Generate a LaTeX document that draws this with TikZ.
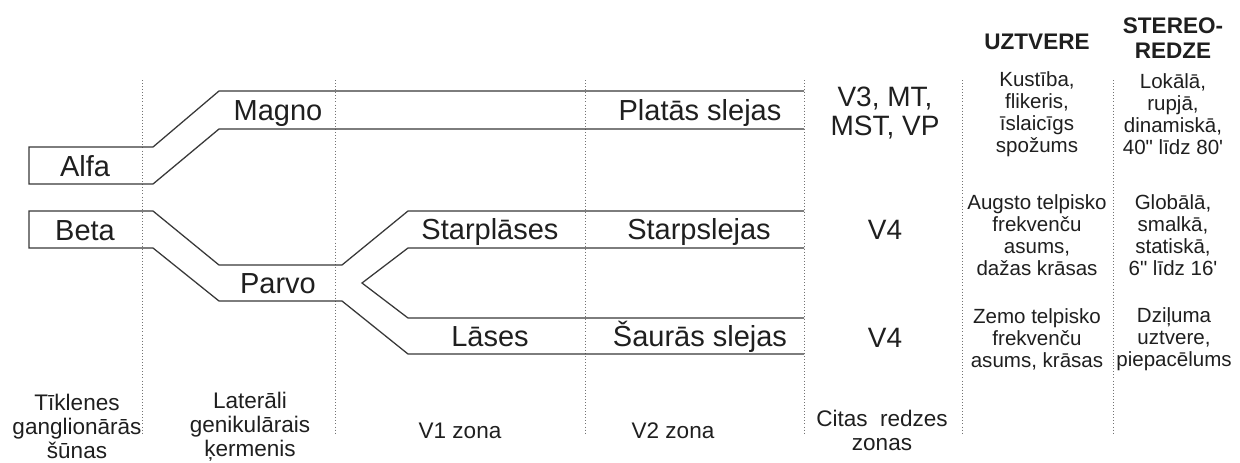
\documentclass[tikz,border=0pt]{standalone}
\usepackage{fontspec}
\setmainfont{Liberation Sans}[Ligatures=TeXOff]
\begin{document}
\begin{tikzpicture}[x=0.75pt,y=-0.75pt,
  band/.style={draw=black!78, line width=0.95pt, line join=miter},
  sepline/.style={draw=black!55, line width=0.7pt, dash pattern=on 0.7pt off 1.6pt},
  lbl/.style={font=\fontsize{21.75}{26}\selectfont, anchor=base, inner sep=0pt, text=black!88},
  vlbl/.style={font=\fontsize{21}{21.75}\selectfont, align=center, inner sep=0pt, text=black!88},
  head/.style={font=\bfseries\fontsize{16.9}{18.75}\selectfont, align=center, inner sep=0pt, text=black!88},
  desc/.style={font=\fontsize{15.4}{16.5}\selectfont, align=center, inner sep=0pt, text=black!88},
  foot/.style={font=\fontsize{16.9}{18}\selectfont, align=center, inner sep=0pt, text=black!88}]
\useasboundingbox[fill=white] (0,0) rectangle (1240,462);

% column separators
\foreach \xx in {142,335,585,804,962,1113}
  \draw[sepline] (\xx,80) -- (\xx,435);

% band corner points
\coordinate (mTR) at (804,91);
\coordinate (mTL) at (219,91);
\coordinate (aTR) at (153,147);
\coordinate (aTL) at (29,147);
\coordinate (aBL) at (29,184);
\coordinate (aBR) at (153,184);
\coordinate (mBL) at (219,129);
\coordinate (mBR) at (804,129);

\coordinate (sTR) at (804,211);
\coordinate (sTL) at (408,211);
\coordinate (pTR) at (342,265);
\coordinate (pTL) at (219,265);
\coordinate (bTR) at (153,211);
\coordinate (bTL) at (29,211);
\coordinate (bBL) at (29,248);
\coordinate (bBR) at (153,248);
\coordinate (pBL) at (219,301);
\coordinate (pBR) at (342,301);
\coordinate (lBL) at (408,354);
\coordinate (lBR) at (804,354);

\coordinate (sBR) at (804,248);
\coordinate (sBL) at (408,248);
\coordinate (vApex) at (362,283);
\coordinate (lTL) at (408,318);
\coordinate (lTR) at (804,318);

% bands
\draw[band] (mTR) -- (mTL) -- (aTR) -- (aTL) -- (aBL) -- (aBR) -- (mBL) -- (mBR);
\draw[band] (sTR) -- (sTL) -- (pTR) -- (pTL) -- (bTR) -- (bTL) -- (bBL) -- (bBR)
  -- (pBL) -- (pBR) -- (lBL) -- (lBR);
\draw[band] (sBR) -- (sBL) -- (vApex) -- (lTL) -- (lTR);

% band labels
\node[lbl] (alfa) at (85,176) {Alfa};
\node[lbl] (beta) at (85,240) {Beta};
\node[lbl] (magno) at (278,120) {Magno};
\node[lbl] (parvo) at (278,293) {Parvo};
\node[lbl] (starplases) at (490,239) {Starplāses};
\node[lbl] (lases) at (490,346) {Lāses};
\node[lbl] (platas) at (700,120) {Platās slejas};
\node[lbl] (starpslejas) at (699,239) {Starpslejas};
\node[lbl] (sauras) at (700,346) {Šaurās slejas};

% other areas
\node[vlbl] (v3) at (885,113) {V3, MT,\\MST, VP};
\node[vlbl, anchor=base] (v4a) at (885,239) {V4};
\node[vlbl, anchor=base] (v4b) at (885,347) {V4};

% headers
\node[head] (uztvere) at (1037,42) {UZTVERE};
\node[head] (stereo) at (1173,38) {STEREO-\\REDZE};

% descriptions
\node[desc] (u1) at (1037,114) {Kustība,\\flikeris,\\īslaicīgs\\spožums};
\node[desc] (s1) at (1173,114) {Lokālā,\\rupjā,\\dinamiskā,\\40" līdz 80'};
\node[desc] (u2) at (1037,235) {Augsto telpisko\\frekvenču\\asums,\\dažas krāsas};
\node[desc] (s2) at (1173,235) {Globālā,\\smalkā,\\statiskā,\\6" līdz 16'};
\node[desc] (u3) at (1037,339) {Zemo telpisko\\frekvenču\\asums, krāsas};
\node[desc] (s3) at (1174,339) {Dziļuma\\uztvere,\\piepacēlums};

% bottom labels
\node[foot] (f1) at (77,426) {Tīklenes\\ganglionārās\\šūnas};
\node[foot] (f2) at (250,427) {Laterāli\\genikulārais\\ķermenis};
\node[foot] (f3) at (460,431) {V1 zona};
\node[foot] (f4) at (673,431) {V2 zona};
\node[foot] (f5) at (882,430) {Citas\ \ redzes\\zonas};
\end{tikzpicture}
\end{document}
